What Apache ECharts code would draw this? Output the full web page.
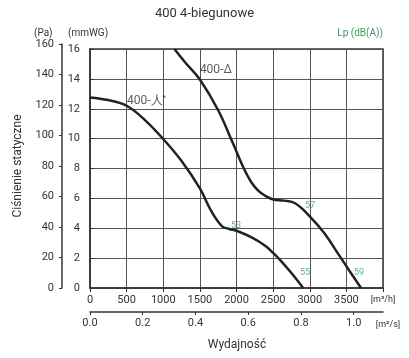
<!DOCTYPE html>
<html><head><meta charset="utf-8">
<script src="https://cdn.jsdelivr.net/npm/echarts@6/dist/echarts.min.js"></script>
<style>html,body{margin:0;padding:0;background:#fff}#c{width:409px;height:358px}</style>
</head><body><div id="c"></div>
<script>
// Data (flow in m3/h, static pressure in mmWG)
const lambdaFlow = [0, 250, 500, 750, 1000, 1250, 1500, 1650, 1800, 1900, 2000, 2200, 2400, 2500, 2600, 2750, 2910];
const lambdaPress = [12.76, 12.58, 12.2, 11.24, 9.97, 8.5, 6.67, 5.2, 4.15, 3.95, 3.83, 3.4, 2.8, 2.35, 1.85, 1.0, 0];
const deltaFlow = [1152, 1300, 1500, 1750, 1950, 2100, 2200, 2300, 2400, 2500, 2650, 2800, 3000, 3200, 3400, 3550, 3700];
const deltaPress = [16, 15.1, 13.96, 11.9, 9.7, 8.0, 7.1, 6.5, 6.15, 5.93, 5.85, 5.67, 4.8, 3.66, 2.2, 1.09, 0];
const noiseFlow = [1993, 3003, 2935, 3672];
const noisePress = [4.2, 5.5, 1.0, 1.0];
const noiseText = ['53', '57', '55', '59'];
const curveNameFlow = [505, 1500];
const curveNamePress = [12.5, 14.6];
const curveNames = ['{a|400-人}{s|*}', '{a|400-Δ}'];
const flowTicksM3h = [0, 500, 1000, 1500, 2000, 2500, 3000, 3500, 4000];
const flowTicksM3s = [0.0, 0.2, 0.4, 0.6, 0.8, 1.0];

const FONT = 'Roboto, sans-serif';
const TXT = '#333';
const GREEN = '#3c9a5f';
const chart = echarts.init(document.getElementById('c'), null, {renderer: 'canvas'});
const zip = (a, b) => a.map((v, i) => [v, b[i]]);

chart.setOption({
  animation: false,
  textStyle: {fontFamily: FONT},
  grid: [
    {left: 90, right: 26, top: 49, bottom: 70, show: true, borderColor: '#333', borderWidth: 1.5},
    {left: 62, width: 1, top: 44, bottom: 70}
  ],
  xAxis: [
    {type: 'value', gridIndex: 0, min: 0, max: 4000, interval: 500,
     axisLine: {show: true, lineStyle: {color: '#333', width: 1.5}},
     axisTick: {show: true, length: 4, lineStyle: {color: '#333'}},
     splitLine: {show: true, lineStyle: {color: '#555', width: 1}},
     axisLabel: {color: TXT, fontSize: 11, margin: 7, fontFamily: FONT,
       formatter: v => v === 4000 ? '{u|[m³/h]}' : (flowTicksM3h.indexOf(v) >= 0 ? String(v) : ''),
       rich: {u: {fontSize: 9, color: TXT, fontFamily: FONT}}}},
    {type: 'value', gridIndex: 0, position: 'bottom', offset: 24, min: 0, max: 4000 / 3600, interval: 0.2,
     axisLine: {show: true, onZero: false, lineStyle: {color: '#333', width: 1.5}},
     axisTick: {show: true, length: 3, lineStyle: {color: '#333'}},
     splitLine: {show: false},
     axisLabel: {color: TXT, fontSize: 11, margin: 6, fontFamily: FONT, showMaxLabel: false,
       formatter: v => flowTicksM3s.some(t => Math.abs(t - v) < 1e-6) ? v.toFixed(1) : ''}},
    {type: 'value', gridIndex: 1, show: false, min: 0, max: 1}
  ],
  yAxis: [
    {type: 'value', gridIndex: 0, min: 0, max: 16, interval: 2, offset: 4,
     axisLine: {show: true, lineStyle: {color: '#333', width: 1.5}},
     axisTick: {show: true, inside: true, length: 4, lineStyle: {color: '#333'}},
     splitLine: {show: true, lineStyle: {color: '#555', width: 1}},
     axisLabel: {color: TXT, fontSize: 11, margin: 6, fontFamily: FONT}},
    {type: 'value', gridIndex: 1, min: 0, max: 160, interval: 20,
     axisLine: {show: true, lineStyle: {color: '#333', width: 1.5}},
     axisTick: {show: true, length: 3, lineStyle: {color: '#333'}},
     splitLine: {show: false},
     axisLabel: {color: TXT, fontSize: 11, margin: 8, fontFamily: FONT}}
  ],
  series: [
    {type: 'line', xAxisIndex: 0, yAxisIndex: 0, data: zip(lambdaFlow, lambdaPress), smooth: 0.4,
     showSymbol: false, lineStyle: {color: '#222', width: 2.5}},
    {type: 'line', xAxisIndex: 0, yAxisIndex: 0, data: zip(deltaFlow, deltaPress), smooth: 0.4,
     showSymbol: false, lineStyle: {color: '#222', width: 2.5}},
    {type: 'scatter', xAxisIndex: 0, yAxisIndex: 0, symbolSize: 0, silent: true,
     data: noiseFlow.map((x, i) => ({value: [x, noisePress[i]], name: noiseText[i]})),
     label: {show: true, position: 'inside', formatter: p => p.name, color: GREEN, fontSize: 9, fontFamily: FONT}},
    {type: 'scatter', xAxisIndex: 0, yAxisIndex: 0, symbolSize: 0, silent: true,
     data: curveNameFlow.map((x, i) => ({value: [x, curveNamePress[i]], name: curveNames[i]})),
     label: {show: true, position: 'right', distance: 0, formatter: p => p.name,
       rich: {a: {color: TXT, fontSize: 12, fontFamily: FONT}, s: {color: TXT, fontSize: 8, verticalAlign: 'top', padding: [0, 0, 6, 0]}}}}
  ],
  graphic: [
    {type: 'text', left: 'center', top: 7, style: {text: '400 4-biegunowe', fill: TXT, font: '13px ' + FONT}},
    {type: 'text', x: 34, y: 28, style: {text: '(Pa)', fill: TXT, font: '10px ' + FONT}},
    {type: 'text', x: 68, y: 28, style: {text: '(mmWG)', fill: TXT, font: '10px ' + FONT}},
    {type: 'text', x: 383, y: 28, style: {text: 'Lp (dB(A))', fill: GREEN, font: '10px ' + FONT, textAlign: 'right'}},
    {type: 'text', x: 18, y: 166, rotation: Math.PI / 2, style: {text: 'Ciśnienie statyczne', fill: TXT, font: '12px ' + FONT, textAlign: 'center', textVerticalAlign: 'middle'}},
    {type: 'text', x: 388, y: 325, style: {text: '[m³/s]', fill: TXT, font: '9px ' + FONT, textAlign: 'center', textVerticalAlign: 'middle'}},
    {type: 'text', x: 237, y: 345, style: {text: 'Wydajność', fill: TXT, font: '12px ' + FONT, textAlign: 'center', textVerticalAlign: 'middle'}}
  ]
});
</script>
</body></html>
